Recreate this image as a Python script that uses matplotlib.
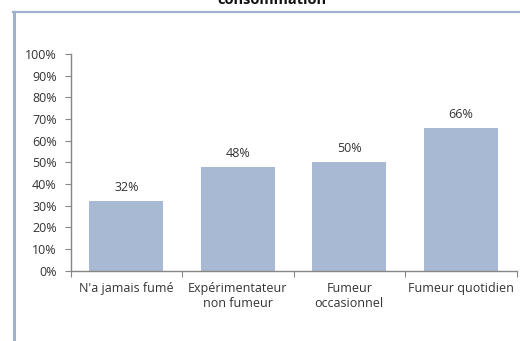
import matplotlib
matplotlib.use("Agg")
import matplotlib.pyplot as plt
from matplotlib.lines import Line2D

# Données
categories = ["N'a jamais fumé", "Expérimentateur\nnon fumeur",
              "Fumeur\noccasionnel", "Fumeur quotidien"]
values = [32, 48, 50, 66]
y_ticks = list(range(0, 101, 10))
title = "consommation"

BAR_COLOR = "#a8b9d3"
FRAME_COLOR = "#9fb1cc"
AXIS_COLOR = "#868686"
TEXT_COLOR = "#333333"

plt.rcParams['font.family'] = ['Open Sans', 'DejaVu Sans']

fig = plt.figure(figsize=(5.2, 3.41), dpi=100)
ax = fig.add_axes([0.1356, 0.2067, 0.8577, 0.6349])

x = range(len(categories))
bars = ax.bar(x, values, width=0.66, color=BAR_COLOR, zorder=2)
for bar, v in zip(bars, values):
    ax.annotate(f"{v}%", (bar.get_x() + bar.get_width() / 2, v),
                xytext=(0, 5), textcoords="offset points",
                ha="center", va="bottom", fontsize=9, color=TEXT_COLOR)

ax.set_xlim(-0.5, len(categories) - 0.5)
ax.set_ylim(0, 100)
ax.set_yticks(y_ticks)
ax.set_yticklabels([f"{t}%" for t in y_ticks])

# ticks x aux frontières des catégories
ax.set_xticks([i - 0.5 for i in range(len(categories) + 1)])
ax.set_xticklabels([])
ax.set_xticks(list(x), minor=True)
ax.set_xticklabels(categories, minor=True)
ax.tick_params(axis="x", which="minor", length=0, pad=8,
               labelsize=9, labelcolor=TEXT_COLOR)
ax.tick_params(axis="x", which="major", length=4, color=AXIS_COLOR)
ax.tick_params(axis="y", length=4, color=AXIS_COLOR, labelsize=9,
               labelcolor=TEXT_COLOR, pad=6)

for side in ["top", "right"]:
    ax.spines[side].set_visible(False)
for side in ["left", "bottom"]:
    ax.spines[side].set_color(AXIS_COLOR)
    ax.spines[side].set_linewidth(1)

# cadre (bord gauche et haut)
fig.add_artist(Line2D([14 / 520, 14 / 520], [0, 1 - 12 / 341],
                      transform=fig.transFigure, color=FRAME_COLOR, lw=2.2))
fig.add_artist(Line2D([13 / 520, 1], [1 - 12 / 341, 1 - 12 / 341],
                      transform=fig.transFigure, color=FRAME_COLOR, lw=1.6))

fig.text(272 / 520, 1 - 4 / 341, title, ha="center", va="baseline",
         fontsize=10.5, fontweight="bold", color="#111111")

fig.savefig("out.png", dpi=100)
